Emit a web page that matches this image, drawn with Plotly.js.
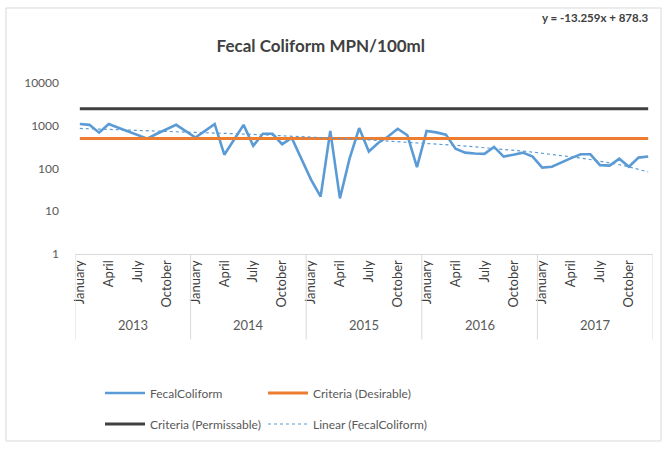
<!DOCTYPE html>
<html>
<head>
<meta charset="utf-8">
<script src="https://cdn.plot.ly/plotly-3.0.1.min.js"></script>
<style>
  html, body { margin: 0; padding: 0; background: #ffffff; }
  #chart { width: 667px; height: 451px; }
</style>
</head>
<body>
<div id="chart"></div>
<script>
// Monthly fecal coliform samples, January 2013 - December 2017 (MPN/100ml)
const years = ["2013", "2014", "2015", "2016", "2017"];
const monthNames = ["January", "February", "March", "April", "May", "June",
                    "July", "August", "September", "October", "November", "December"];
const labelledMonths = ["January", "April", "July", "October"];

const fecal2013 = [1100, 1050, 690, 1100, 900, 750, 600, 500, 650, 830, 1050, 750];
const fecal2014 = [530, 760, 1100, 210, 470, 1050, 340, 650, 650, 370, 520, 170];
const fecal2015 = [55, 22, 760, 20, 170, 880, 250, 400, 560, 850, 600, 108];
const fecal2016 = [760, 700, 620, 290, 235, 225, 220, 320, 190, 210, 235, 190];
const fecal2017 = [105, 110, 140, 175, 215, 215, 120, 117, 170, 110, 180, 190];

// Guideline limits
const criteriaDesirable = 500;
const criteriaPermissible = 2500;

// Linear trendline coefficients (x = sample number, 1-based)
const trendSlope = -13.259;
const trendIntercept = 878.3;

const fecal = [].concat(fecal2013, fecal2014, fecal2015, fecal2016, fecal2017);
const idx = fecal.map((_, i) => i);
const monthOf = idx.map(i => monthNames[i % 12]);
const yearOf = idx.map(i => years[Math.floor(i / 12)]);
const hoverText = idx.map(i => monthOf[i] + " " + yearOf[i]);

const tickIdx = idx.filter(i => labelledMonths.includes(monthOf[i]));
const tickText = tickIdx.map(i => monthOf[i]);

const trend = idx.map(i => trendSlope * (i + 1) + trendIntercept);

const FONT = "Lato, 'Open Sans', 'Liberation Sans', sans-serif";
const GREY_TEXT = "#595959";
const AXIS_GREY = "#D9D9D9";

const traces = [
  {
    name: "FecalColiform", x: idx, y: fecal, text: hoverText,
    type: "scatter", mode: "lines",
    line: { color: "#5B9BD5", width: 2.6 },
    legend: "legend"
  },
  {
    name: "Criteria (Desirable)", x: idx, y: idx.map(() => criteriaDesirable),
    type: "scatter", mode: "lines",
    line: { color: "#ED7D31", width: 3 },
    legend: "legend2"
  },
  {
    name: "Criteria (Permissable)", x: idx, y: idx.map(() => criteriaPermissible),
    type: "scatter", mode: "lines",
    line: { color: "#404040", width: 3 },
    legend: "legend3"
  },
  {
    name: "Linear (FecalColiform)", x: idx, y: trend,
    type: "scatter", mode: "lines",
    line: { color: "#5B9BD5", width: 1.2, dash: "dot" },
    legend: "legend4"
  }
];

// Year dividers below the axis and year captions
const boundaries = years.map((_, k) => k * 12 - 0.5).concat([years.length * 12 - 0.5]);
const shapes = boundaries.map(b => ({
  type: "line", xref: "x", yref: "paper",
  x0: b, x1: b, y0: 0, y1: -0.5,
  line: { color: AXIS_GREY, width: 1 }
}));
// chart frame
shapes.push({
  type: "rect", xref: "paper", yref: "paper",
  x0: -0.1194, x1: 1.0138, y0: -1.0936, y1: 1.4386,
  line: { color: AXIS_GREY, width: 1 }, fillcolor: "rgba(0,0,0,0)"
});

const annotations = years.map((yr, k) => ({
  xref: "x", yref: "paper",
  x: k * 12 + 5.5, y: -0.415,
  text: yr, showarrow: false,
  font: { family: FONT, size: 13, color: GREY_TEXT },
  xanchor: "center", yanchor: "middle"
}));
annotations.push({
  xref: "paper", yref: "paper",
  x: 0.995, y: 1.385,
  xanchor: "right", yanchor: "middle",
  text: "<b>y = -13.259x + 878.3</b>", showarrow: false,
  font: { family: FONT, size: 11.5, color: "#404040" }
});

// One legend box per entry so the two columns line up
function legendAt(px, py) {
  return {
    orientation: "h",
    xref: "container", yref: "container",
    x: px / 667, y: 1 - py / 451,
    xanchor: "left", yanchor: "middle",
    font: { family: FONT, size: 12, color: GREY_TEXT },
    bgcolor: "rgba(0,0,0,0)",
    itemwidth: 40
  };
}

const layout = {
  width: 667, height: 451,
  paper_bgcolor: "#ffffff", plot_bgcolor: "#ffffff",
  margin: { l: 75, r: 14, t: 83, b: 197 },
  showlegend: true,
  title: {
    text: "<b>Fecal Coliform MPN/100ml</b>",
    xref: "container", yref: "container",
    x: 0.481, y: 1 - 46 / 451,
    xanchor: "center", yanchor: "middle",
    font: { family: FONT, size: 17, color: "#404040" }
  },
  xaxis: {
    range: [-0.5, 59.5],
    tickmode: "array", tickvals: tickIdx, ticktext: tickText,
    tickangle: -90,
    tickfont: { family: FONT, size: 13, color: "#404040" },
    showgrid: false, zeroline: false,
    showline: true, linecolor: AXIS_GREY, linewidth: 1,
    ticks: "", fixedrange: true
  },
  yaxis: {
    type: "log", range: [0, 4],
    tickmode: "array",
    tickvals: [1, 10, 100, 1000, 10000],
    ticktext: ["1", "10", "100", "1000", "10000"],
    tickfont: { family: FONT, size: 12, color: GREY_TEXT },
    showgrid: false, zeroline: false, showline: false,
    ticks: "", ticklabelstandoff: 15, fixedrange: true
  },
  legend: legendAt(100, 393),
  legend2: legendAt(263, 393),
  legend3: legendAt(100, 424),
  legend4: legendAt(263, 424),
  shapes: shapes,
  annotations: annotations,
  hovermode: "closest"
};

Plotly.newPlot("chart", traces, layout, { displayModeBar: false, staticPlot: true });
</script>
</body>
</html>
